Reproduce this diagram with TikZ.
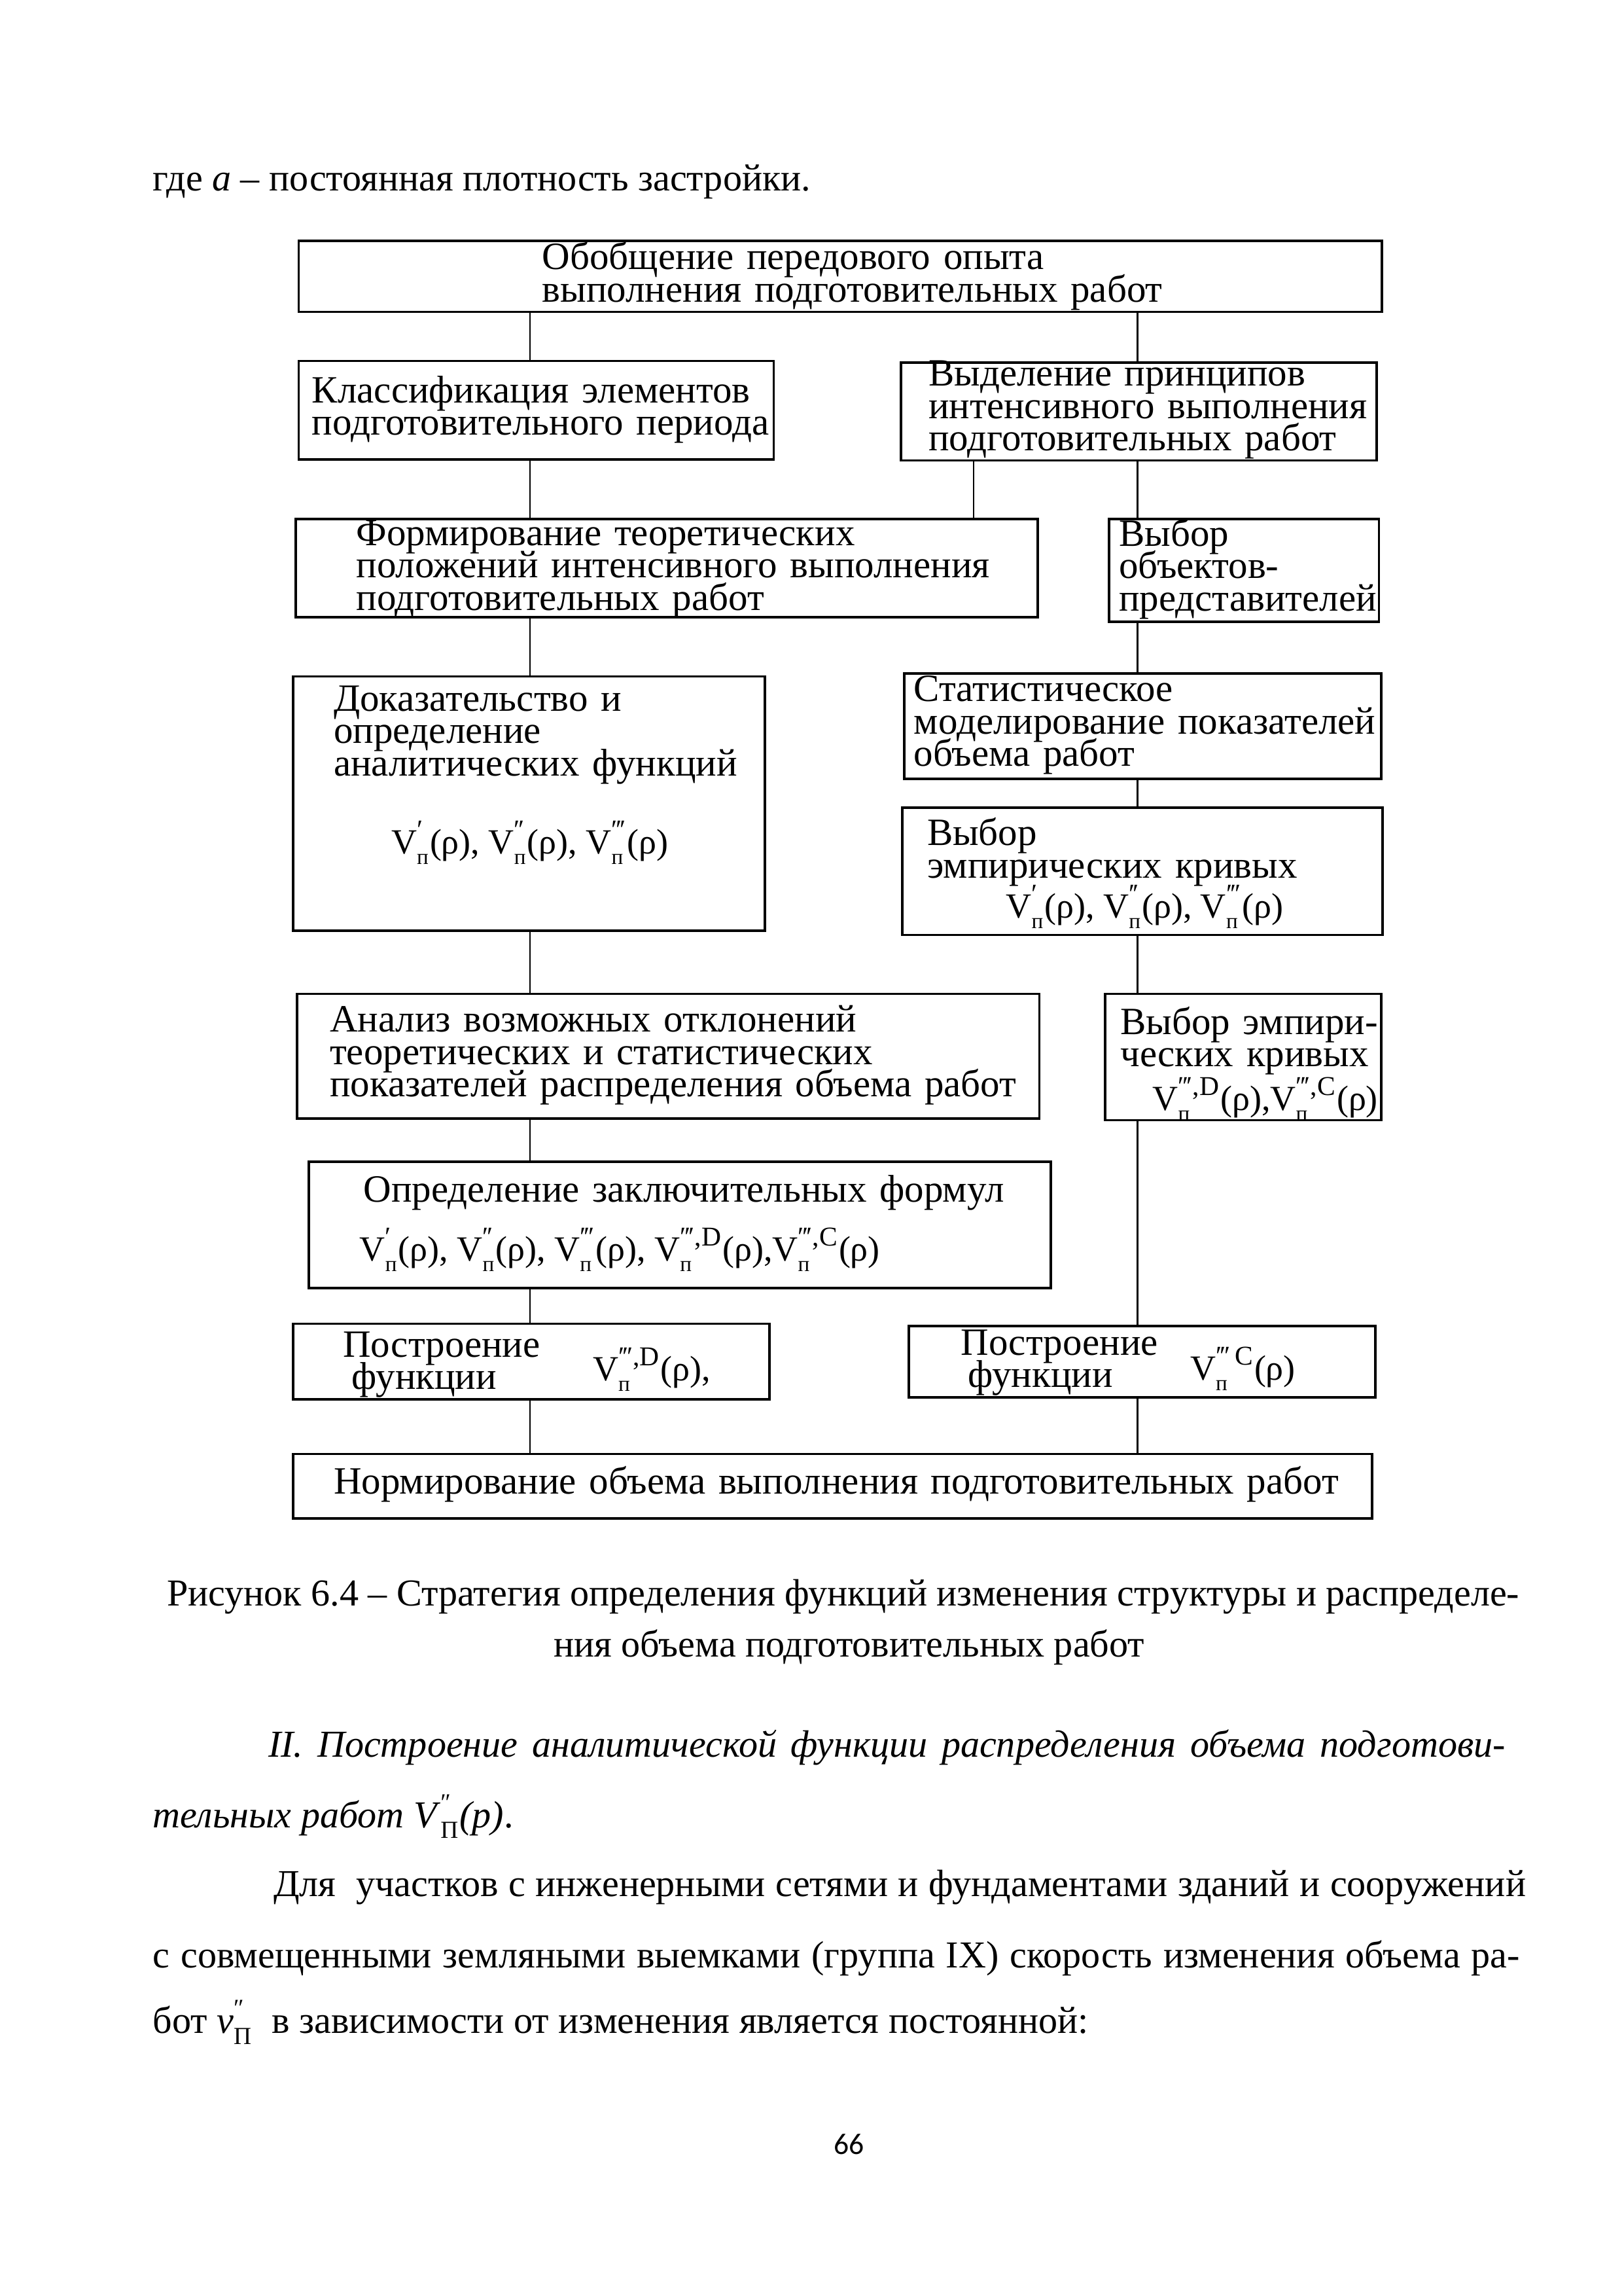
\documentclass[tikz,border=0pt]{standalone}
\usepackage{fontspec}
\usepackage{amsmath}
\setmainfont{Liberation Serif}
\newfontfamily\diagfont{Liberation Serif}
\newfontfamily\pnumfont{Carlito}
\usetikzlibrary{fit}
\newlength\pxu
\setlength\pxu{0.018936cm}
\newcommand\dfont{\diagfont\fontsize{14.2}{11.9}\selectfont\lineskiplimit=-30pt\relax}
\newcommand\ffont{\diagfont\fontsize{13}{13}\selectfont}
\newcommand\bfnt{\fontsize{14}{16}\selectfont}
\newcommand\pa{′}
\newcommand\pb{′\kern-0.6pt′}
\newcommand\pc{′\kern-0.6pt′\kern-0.6pt′}
\newcommand\stk[2]{\setbox0\hbox{\fontsize{10}{10}\selectfont#1}\setbox2\hbox{\fontsize{8}{8}\selectfont#2}\rlap{\raise 5.5pt\copy0}\rlap{\lower 3.8pt\copy2}\ifdim\wd0>\wd2 \hskip\wd0\else\hskip\wd2\fi\hskip0.5pt\relax}
\newcommand\bstk[2]{\setbox0\hbox{\fontsize{9}{9}\selectfont#1}\setbox2\hbox{\fontsize{9}{9}\selectfont#2}\rlap{\raise 6.2pt\copy0}\rlap{\lower 4pt\copy2}\ifdim\wd0>\wd2 \hskip\wd0\else\hskip\wd2\fi\hskip0.5pt\relax}
\newcommand\Vf[2]{V\stk{#1}{#2}}
\begin{document}
\begin{tikzpicture}[x=0.018936cm,y=-0.018936cm,
  box/.style={draw,line width=0.9pt,inner sep=0pt},
  conn/.style={line width=0.6pt},
  lbl/.style={anchor=base west,inner sep=0pt,text width=#1\pxu,align=left,font=\dfont},
  frm/.style={anchor=base west,inner sep=0pt,font=\ffont},
  body/.style={anchor=base west,inner sep=0pt,font=\bfnt}]
\useasboundingbox[fill=white] (0,0) rectangle (1109,1568);

% top line
\node[body] (l0) at (104,130.4) {где \textit{a} – постоянная плотность застройки.};

% boxes
\node[box,fit={(204,164.5) (944,213)}] (b1) {};
\node[box,fit={(204,246.5) (528.5,313.8)}] (b2) {};
\node[box,fit={(615.5,247.5) (940.5,314.5)}] (b3) {};
\node[box,fit={(202,354.5) (709,421.6)}] (b4) {};
\node[box,fit={(757.6,354.5) (942,424.6)}] (b5) {};
\node[box,fit={(200.4,461.9) (522.6,635.5)}] (b6) {};
\node[box,fit={(617.6,460) (943.4,532)}] (b7) {};
\node[box,fit={(616.5,551.6) (944.5,638.5)}] (b8) {};
\node[box,fit={(203,678.7) (710,764)}] (b9) {};
\node[box,fit={(755,678.7) (943.4,765)}] (b10) {};
\node[box,fit={(211,793.5) (717.7,879.8)}] (b11) {};
\node[box,fit={(200.4,904) (525.7,955.5)}] (b12) {};
\node[box,fit={(621,905.6) (939.4,954.3)}] (b13) {};
\node[box,fit={(200.4,993) (937.4,1037)}] (b14) {};

% box texts
\node[lbl=560] (t1) at (370,184) {Обобщение передового опыта\\выполнения подготовительных работ};
\node[lbl=335] (t2) at (212.8,275) {Классификация элементов\\подготовительного периода};
\node[lbl=325] (t3) at (634,263.7) {Выделение принципов\\интенсивного выполнения\\подготовительных работ};
\node[lbl=480] (t4) at (243,372.5) {Формирование теоретических\\положений интенсивного выполнения\\подготовительных работ};
\node[lbl=200] (t5) at (764,373) {Выбор\\объектов-\\представителей};
\node[lbl=290] (t6) at (227.6,485.5) {Доказательство и\\определение\\аналитических функций};
\node[frm] (f6) at (267,583) {\Vf{\pa}{п}(ρ), \Vf{\pb}{п}(ρ), \Vf{\pc}{п}(ρ)};
\node[lbl=320] (t7) at (624,479) {Статистическое\\моделирование показателей\\объема работ};
\node[lbl=305] (t8) at (633,577.4) {Выбор\\эмпирических кривых};
\node[frm] (f8) at (686.9,627) {\Vf{\pa}{п}(ρ), \Vf{\pb}{п}(ρ), \Vf{\pc}{п}(ρ)};
\node[lbl=480] (t9) at (225,704.8) {Анализ возможных отклонений\\теоретических и статистических\\показателей распределения объема работ};
\node[lbl=185] (t10) at (765,706.3) {Выбор эмпири-\\ческих кривых};
\node[frm] (f10) at (787,758.4) {\Vf{\pc,D}{п}(ρ),\Vf{\pc,C}{п}(ρ)};
\node[lbl=460] (t11) at (248,821) {Определение заключительных формул};
\node[frm] (f11) at (245.4,861) {\Vf{\pa}{п}(ρ), \Vf{\pb}{п}(ρ), \Vf{\pc}{п}(ρ), \Vf{\pc,D}{п}(ρ),\Vf{\pc,C}{п}(ρ)};
\node[lbl=160] (t12) at (234,926.7) {Построение\\\hspace*{6\pxu}функции};
\node[frm] (f12) at (404.6,943) {\Vf{\pc,D}{п}(ρ),};
\node[lbl=150] (t13) at (656,925.3) {Построение\\\hspace*{5\pxu}функции};
\node[frm] (f13) at (812.7,942.4) {\Vf{\pc\,C}{п}(ρ)};
\node[lbl=700] (t14) at (227.6,1020) {Нормирование объема выполнения подготовительных работ};

% connectors
\coordinate (cL) at (362,0);
\coordinate (cM) at (665,0);
\coordinate (cR) at (777,0);
\draw[conn] (b1.south -| cL) -- (b2.north -| cL);
\draw[conn] (b1.south -| cR) -- (b3.north -| cR);
\draw[conn] (b2.south -| cL) -- (b4.north -| cL);
\draw[conn] (b3.south -| cM) -- (b4.north -| cM);
\draw[conn] (b3.south -| cR) -- (b5.north -| cR);
\draw[conn] (b4.south -| cL) -- (b6.north -| cL);
\draw[conn] (b5.south -| cR) -- (b7.north -| cR);
\draw[conn] (b7.south -| cR) -- (b8.north -| cR);
\draw[conn] (b6.south -| cL) -- (b9.north -| cL);
\draw[conn] (b8.south -| cR) -- (b10.north -| cR);
\draw[conn] (b9.south -| cL) -- (b11.north -| cL);
\draw[conn] (b11.south -| cL) -- (b12.north -| cL);
\draw[conn] (b10.south -| cR) -- (b13.north -| cR);
\draw[conn] (b12.south -| cL) -- (b14.north -| cL);
\draw[conn] (b13.south -| cR) -- (b14.north -| cR);

% caption and text
\node[body,anchor=base] (cap1) at (576,1096.5) {Рисунок 6.4 – Стратегия определения функций изменения структуры и распределе-};
\node[body,anchor=base] (cap2) at (580,1131.6) {ния объема подготовительных работ};
\node[body] (it1) at (183,1200) {\makebox[845\pxu][s]{\itshape II.\ Построение аналитической функции распределения объема подготови-}};
\node[body] (it2) at (104,1248) {\textit{тельных работ V}\bstk{″}{П}\textit{(p)}.};
\node[body] (p1) at (186.5,1295) {\makebox[855.5\pxu][s]{Для\ \ участков с инженерными сетями и фундаментами зданий и сооружений}};
\node[body] (p2) at (104,1343.6) {\makebox[934\pxu][s]{с совмещенными земляными выемками (группа IX) скорость изменения объема ра-}};
\node[body] (p3) at (104,1388.5) {бот \textit{v}\bstk{″}{П}\ \ в зависимости от изменения является постоянной:};
\node[anchor=base,inner sep=0pt,font=\pnumfont\fontsize{11}{13}\selectfont] (pn) at (580,1471) {66};
\end{tikzpicture}
\end{document}
